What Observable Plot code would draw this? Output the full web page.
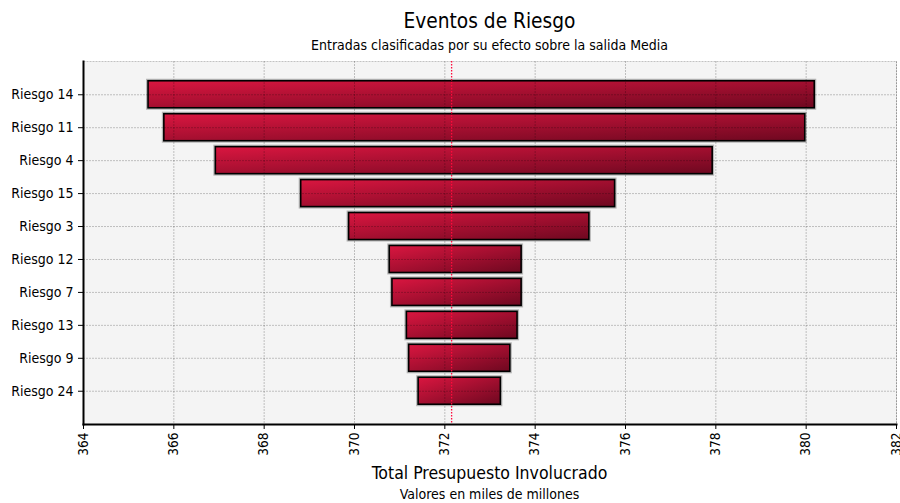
<!DOCTYPE html>
<html><head><meta charset="utf-8">
<script src="https://cdn.jsdelivr.net/npm/d3@7"></script>
<script src="https://cdn.jsdelivr.net/npm/@observablehq/plot@0.6"></script>
<style>
body{margin:0;background:#fff;font-family:"DejaVu Sans Condensed","DejaVu Sans",sans-serif;}
#wrap{position:relative;width:900px;height:503px;overflow:hidden;}
#chart{position:absolute;left:0;top:0;}
.t{position:absolute;left:83px;width:813px;text-align:center;color:#000;white-space:nowrap;z-index:2;line-height:1;}
</style></head><body>
<div id="wrap">
<div id="chart"></div>
<div class="t" style="top:11px;font-size:20.7px;">Eventos de Riesgo</div>
<div class="t" style="top:38px;font-size:14px;">Entradas clasificadas por su efecto sobre la salida Media</div>
<div class="t" style="top:465px;font-size:17.5px;">Total Presupuesto Involucrado</div>
<div class="t" style="top:487px;font-size:14px;">Valores en miles de millones</div>
</div>
<script>
const categories = ["Riesgo 14","Riesgo 11","Riesgo 4","Riesgo 15","Riesgo 3","Riesgo 12","Riesgo 7","Riesgo 13","Riesgo 9","Riesgo 24"];
const lowValues  = [365.44,365.79,366.93,368.82,369.88,370.78,370.84,371.16,371.21,371.42];
const highValues = [380.19,379.98,377.93,375.77,375.20,373.70,373.70,373.61,373.45,373.24];
const meanValue = 372.15;
const xTicks = [364,366,368,370,372,374,376,378,380,382];

const data = categories.map((c,i)=>({cat:c, low:lowValues[i], high:highValues[i]}));
const gridStyle = {stroke:"#000", strokeOpacity:0.22, strokeDasharray:"2,1"};

const chart = Plot.plot({
  width: 900, height: 503,
  marginTop: 61, marginBottom: 79, marginLeft: 83, marginRight: 4,
  style: {fontFamily: '"DejaVu Sans Condensed","DejaVu Sans",sans-serif', fontSize: "14px", color: "#000", background: "transparent", overflow: "visible"},
  x: {domain: [364, 382]},
  y: {domain: categories, paddingInner: 0.18, paddingOuter: 0.6, round: false},
  marks: [
    Plot.frame({fill: "#f4f4f4", stroke: null}),
    Plot.barX(data, {x1: "low", x2: "high", y: "cat", fill: "none", stroke: "#b5b5b5", strokeWidth: 4}),
    Plot.barX(data, {x1: "low", x2: "high", y: "cat", fill: "url(#barGrad)", stroke: "#000", strokeWidth: 1.6}),
    Plot.gridX(xTicks, gridStyle),
    Plot.gridY({...gridStyle}),
    Plot.frame(gridStyle),
    Plot.ruleX([meanValue], {stroke: "#ff0a3c", strokeDasharray: "1.5,1.5", strokeWidth: 1.3, strokeOpacity: 1}),
    Plot.frame({anchor: "left", stroke: "#000", strokeWidth: 2}),
    Plot.frame({anchor: "bottom", stroke: "#000", strokeWidth: 2}),
    Plot.axisY({tickSize: 5, tickPadding: 5, fontSize: 14, label: null}),
    Plot.axisX(xTicks, {tickSize: 5, tickPadding: 3, tickRotate: -90, fontSize: 13.5, label: null})
  ]
});
d3.select(chart).insert("defs", ":first-child").html(
  '<linearGradient id="barGrad" x1="0" y1="0" x2="1" y2="1">' +
  '<stop offset="0" stop-color="#da1640"/>' +
  '<stop offset="1" stop-color="#6e0820"/>' +
  '</linearGradient>');
document.getElementById("chart").appendChild(chart);
</script>
</body></html>
